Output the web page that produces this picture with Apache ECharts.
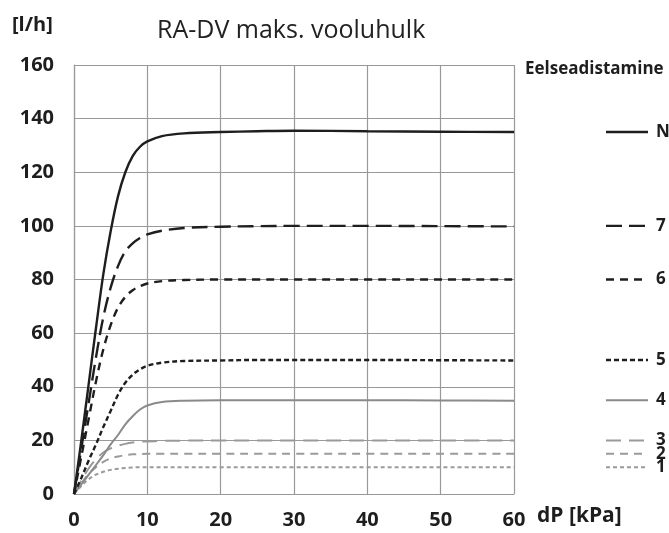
<!DOCTYPE html>
<html>
<head>
<meta charset="utf-8">
<script src="https://cdn.jsdelivr.net/npm/echarts@6/dist/echarts.min.js"></script>
<style>
  html, body { margin: 0; padding: 0; background: #fff; }
  #chart { width: 669px; height: 533px; }
</style>
</head>
<body>
<div id="chart"></div>
<script>
// dP [kPa] sample points shared by all curves
var dp = [0, 1, 2, 3, 4, 5, 6, 7, 8, 9, 10, 12, 15, 20, 25, 30, 40, 50, 60];

// flow [l/h] per presetting
var flowN = [0, 20, 41, 62, 82, 98, 111, 120, 126, 129.5, 131.5, 133.5, 134.5, 135, 135.3, 135.5, 135.3, 135.1, 135];
var flow7 = [0, 17, 34, 51, 66, 77, 85, 90.5, 93.5, 95.5, 96.8, 98.2, 99.2, 99.7, 99.9, 100, 100, 99.9, 99.8];
var flow6 = [0, 14, 28, 42, 54, 63, 69.5, 73.5, 76, 77.5, 78.5, 79.4, 79.8, 80, 80, 80, 80, 80, 80];
var flow5 = [0, 6, 12.5, 18.5, 25, 31, 37, 41.5, 44.5, 46.5, 47.8, 49, 49.6, 49.8, 50, 50, 50, 49.9, 49.8];
var flow4 = [0, 3.6, 7.2, 10.8, 14.5, 18.5, 22, 26, 29, 31.5, 33, 34.3, 34.8, 35, 35, 35, 35, 34.9, 34.8];
var flow3 = [0, 5, 9.5, 13, 15.5, 17, 18, 18.7, 19.2, 19.5, 19.6, 19.8, 19.9, 20, 20, 20, 20, 20, 20];
var flow2 = [0, 4, 7.5, 10, 12, 13.3, 14, 14.5, 14.8, 14.9, 15, 15, 15, 15, 15, 15, 15, 15, 15];
var flow1 = [0, 3, 5.5, 7.2, 8.3, 9, 9.4, 9.7, 9.9, 10, 10, 10, 10, 10, 10, 10, 10, 10, 10];

var presetNames = ['N', '7', '6', '5', '4', '3', '2', '1'];
var presetFlows = [flowN, flow7, flow6, flow5, flow4, flow3, flow2, flow1];
// level where each legend sample sits (the plateau)
var legendLevels = [135, 100, 80, 50, 35, 20, 15, 10];

var xTicks = [0, 10, 20, 30, 40, 50, 60];
var yTicks = [0, 20, 40, 60, 80, 100, 120, 140, 160];

var FONT = 'Open Sans';
var styles = [
  { color: '#1e1e1e', width: 2.4, type: 'solid' },
  { color: '#1e1e1e', width: 2.4, type: [16, 7] },
  { color: '#1e1e1e', width: 2.4, type: [8, 6] },
  { color: '#1e1e1e', width: 2.4, type: [5, 3] },
  { color: '#8a8a8a', width: 2, type: 'solid' },
  { color: '#9a9a9a', width: 2, type: [15, 8] },
  { color: '#9a9a9a', width: 2, type: [8, 6] },
  { color: '#9a9a9a', width: 2, type: [4, 3] }
];

function pairs(xs, ys) {
  return xs.map(function (x, i) { return [x, ys[i]]; });
}

var series = [];
presetNames.forEach(function (name, i) {
  series.push({
    name: name,
    type: 'line',
    xAxisIndex: 0,
    yAxisIndex: 0,
    data: pairs(dp, presetFlows[i]),
    smooth: 0.35,
    showSymbol: false,
    silent: true,
    z: 10 - i,
    lineStyle: styles[i]
  });
});
// legend samples on the right, in a small grid with the same y scale
presetNames.forEach(function (name, i) {
  series.push({
    name: name + '_key',
    type: 'line',
    xAxisIndex: 1,
    yAxisIndex: 1,
    data: [[0, legendLevels[i]], [1, legendLevels[i]]],
    showSymbol: false,
    silent: true,
    lineStyle: styles[i],
    endLabel: {
      show: true,
      distance: 8,
      formatter: name,
      color: '#1e1e1e',
      fontFamily: FONT,
      fontWeight: 'bold',
      fontSize: 17
    }
  });
});

var chart = echarts.init(document.getElementById('chart'));
chart.setOption({
  animation: false,
  backgroundColor: '#fff',
  title: {
    text: 'RA-DV maks. vooluhulk',
    left: 152,
    top: 13,
    textStyle: { fontFamily: FONT, fontWeight: 'normal', fontSize: 25, color: '#222' }
  },
  graphic: [
    { type: 'text', left: 12, top: 15, style: { text: '[l/h]', fontFamily: FONT, fontWeight: 'bold', fontSize: 20, fill: '#1e1e1e' } },
    { type: 'text', left: 525, top: 61, style: { text: 'Eelseadistamine', fontFamily: FONT, fontWeight: 'bold', fontSize: 17, fill: '#1e1e1e' } },
    { type: 'text', left: 537, top: 506, style: { text: 'dP [kPa]', fontFamily: FONT, fontWeight: 'bold', fontSize: 21, fill: '#1e1e1e' } }
  ],
  grid: [
    { left: 74, top: 65, right: 155, bottom: 39 },
    { left: 606, top: 65, width: 42, bottom: 39 }
  ],
  xAxis: [
    {
      type: 'value', gridIndex: 0, min: xTicks[0], max: xTicks[xTicks.length - 1], interval: 10,
      axisLine: { show: true, lineStyle: { color: '#999', width: 1.2 } },
      axisTick: { show: false },
      axisLabel: { margin: 16, fontFamily: FONT, fontWeight: 'bold', fontSize: 20, color: '#1e1e1e' },
      splitLine: { show: true, lineStyle: { color: '#999', width: 1.2 } }
    },
    { type: 'value', gridIndex: 1, min: 0, max: 1, show: false }
  ],
  yAxis: [
    {
      type: 'value', gridIndex: 0, min: yTicks[0], max: yTicks[yTicks.length - 1], interval: 20,
      axisLine: { show: true, lineStyle: { color: '#999', width: 1.2 } },
      axisTick: { show: false },
      axisLabel: { margin: 20, fontFamily: FONT, fontWeight: 'bold', fontSize: 20, color: '#1e1e1e' },
      splitLine: { show: true, lineStyle: { color: '#999', width: 1.2 } }
    },
    { type: 'value', gridIndex: 1, min: 0, max: 160, show: false }
  ],
  series: series
});
</script>
</body>
</html>
